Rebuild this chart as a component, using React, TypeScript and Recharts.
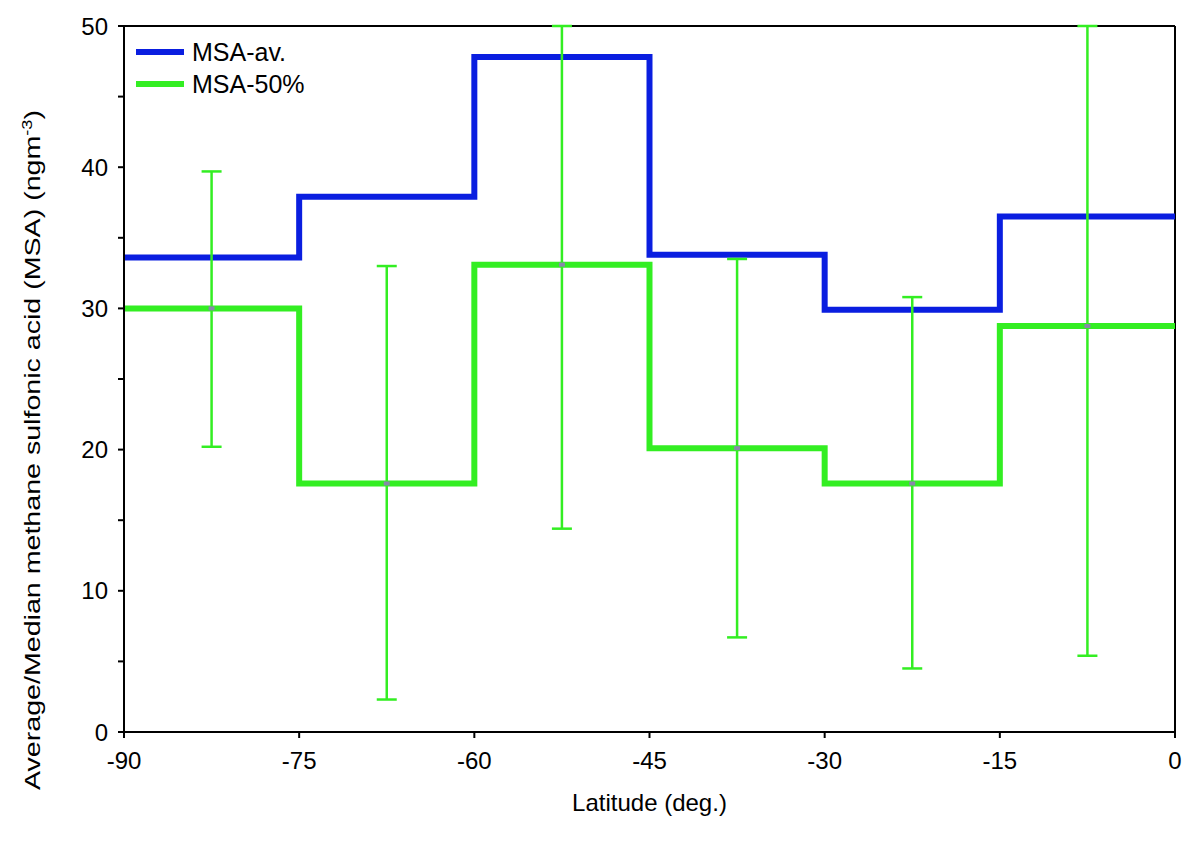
import React from "react";
import { ComposedChart, Line, Scatter, ErrorBar, XAxis, YAxis, ReferenceLine } from "recharts";

const latEdges = [-90, -75, -60, -45, -30, -15, 0];
const msaAv = [33.6, 37.9, 47.8, 33.8, 29.9, 36.5];
const msa50 = [30.0, 17.6, 33.1, 20.1, 17.6, 28.75];
const midLat = [-82.5, -67.5, -52.5, -37.5, -22.5, -7.5];
const errLow = [20.2, 2.3, 14.4, 6.7, 4.5, 5.4];
const errHigh = [39.7, 33.0, 50, 33.5, 30.8, 50];
const xTicks = [-90, -75, -60, -45, -30, -15, 0];
const yTicks = [0, 5, 10, 15, 20, 25, 30, 35, 40, 45, 50];

const stepData = latEdges.map((x, i) => ({
  x,
  av: msaAv[Math.min(i, msaAv.length - 1)],
  med: msa50[Math.min(i, msa50.length - 1)],
}));
const errData = midLat.map((x, i) => ({
  x,
  y: msa50[i],
  err: [msa50[i] - errLow[i], errHigh[i] - msa50[i]],
}));

const font = "'Liberation Sans', Arial, sans-serif";

const YLabel = () => {
  const cx = 32;
  const cy = 442;
  return (
    <text x={cx} y={cy} transform={`rotate(-90 ${cx} ${cy})`} textAnchor="middle" fontSize={22} fill="#000" fontFamily={font} textLength={680} lengthAdjust="spacingAndGlyphs">
      Average/Median methane sulfonic acid (MSA)  (ngm<tspan dy={-8} fontSize={14}>-3</tspan><tspan dy={8}>)</tspan>
    </text>
  );
};

export default function App() {
  return (
    <div style={{ position: "relative", width: 1200, height: 840, fontFamily: font }}>
      <ComposedChart width={1200} height={840} data={stepData} margin={{ top: 18, right: 33, left: 0, bottom: 0 }}>
        <XAxis
          type="number"
          dataKey="x"
          domain={[-90, 0]}
          ticks={xTicks}
          stroke="#000"
          strokeWidth={2}
          tick={{ fill: "#000", fontSize: 24, fontFamily: font }}
          tickSize={6}
          tickMargin={14}
          height={116}
          label={{ value: "Latitude  (deg.)", position: "insideTop", offset: 62, fill: "#000", fontSize: 24, fontFamily: font }}
        />
        <YAxis
          type="number"
          domain={[0, 50]}
          allowDataOverflow
          ticks={yTicks}
          tickFormatter={(v: number) => (v % 10 === 0 ? String(v) : "")}
          stroke="#000"
          strokeWidth={2}
          tick={{ fill: "#000", fontSize: 24, fontFamily: font }}
          tickSize={6}
          tickMargin={10}
          width={116}
          label={<YLabel />}
        />
        <ReferenceLine y={50} stroke="#000" strokeWidth={2} />
        <ReferenceLine x={0} stroke="#000" strokeWidth={2} />
        <Line type="stepAfter" dataKey="med" stroke="#33ee22" strokeWidth={6} dot={false} isAnimationActive={false} />
        <Line type="stepAfter" dataKey="av" stroke="#0a1ee0" strokeWidth={6} dot={false} isAnimationActive={false} />
        <Scatter
          data={errData}
          dataKey="y"
          isAnimationActive={false}
          shape={(p: any) => <rect x={p.cx - 3} y={p.cy - 2} width={6} height={4} fill="#8888aa" />}
        >
          <ErrorBar dataKey="err" direction="y" width={10} stroke="#33ee22" strokeWidth={2.5} isAnimationActive={false} />
        </Scatter>
      </ComposedChart>
      <div style={{ position: "absolute", left: 128, top: 28, fontSize: 25, color: "#000", lineHeight: "32px" }}>
        <div style={{ display: "flex", alignItems: "center" }}>
          <span style={{ display: "inline-block", width: 48, height: 6, background: "#0a1ee0", marginRight: 8 }} />MSA-av.
        </div>
        <div style={{ display: "flex", alignItems: "center" }}>
          <span style={{ display: "inline-block", width: 48, height: 6, background: "#33ee22", marginRight: 8 }} />MSA-50%
        </div>
      </div>
    </div>
  );
}
